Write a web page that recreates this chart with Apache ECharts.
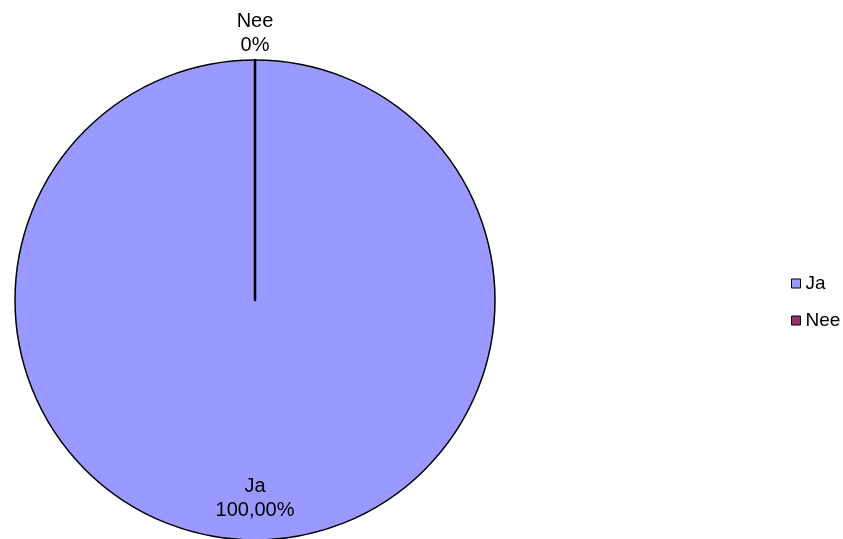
<!DOCTYPE html>
<html><head><meta charset="utf-8">
<script src="https://cdn.jsdelivr.net/npm/echarts@6/dist/echarts.min.js"></script>
<style>html,body{margin:0;padding:0;background:#fff}#c{width:843px;height:539px}</style>
</head><body><div id="c"></div>
<script>
var categories = ['Ja', 'Nee'];
var values = [100, 0];
var pctLabels = ['100,00%', '0%'];
var colors = ['#9999FF', '#993366'];

var chart = echarts.init(document.getElementById('c'), null, {renderer: 'canvas'});
var font = 'Liberation Sans, Arial, sans-serif';
var center = [255, 300];
chart.setOption({
  animation: false,
  legend: {
    data: categories,
    orient: 'vertical',
    left: 786, top: 269,
    icon: 'rect', itemWidth: 9, itemHeight: 9, itemGap: 18,
    textStyle: {fontFamily: font, fontSize: 19, color: '#000'},
    itemStyle: {borderColor: '#000', borderWidth: 1}
  },
  series: [
    {
      type: 'pie', center: center, radius: [0, 240],
      startAngle: 90, clockwise: true, silent: true,
      label: {show: false}, labelLine: {show: false},
      itemStyle: {borderColor: '#000', borderWidth: 1.5},
      data: categories.map(function (n, i) {
        return {name: n, value: values[i], itemStyle: {color: colors[i], borderWidth: i === 1 ? 2.5 : 1.5}};
      })
    },
    {
      type: 'pie', center: center, radius: [150, 240],
      startAngle: 90, clockwise: true, silent: true,
      legendHoverLink: false,
      itemStyle: {color: 'transparent', borderWidth: 0},
      label: {position: 'inside', fontFamily: font, fontSize: 20, lineHeight: 24, color: '#000',
        formatter: function (p) { return p.name + '\n' + pctLabels[p.dataIndex]; }},
      labelLine: {show: false},
      data: categories.map(function (n, i) {
        return {name: n, value: values[i], label: {show: i === 0}, itemStyle: {color: 'transparent'}};
      })
    },
    {
      type: 'pie', center: center, radius: [252, 276],
      startAngle: 90, clockwise: true, silent: true,
      legendHoverLink: false,
      itemStyle: {color: 'transparent', borderWidth: 0},
      label: {position: 'inside', fontFamily: font, fontSize: 20, lineHeight: 24, color: '#000',
        formatter: function (p) { return p.name + '\n' + pctLabels[p.dataIndex]; }},
      labelLine: {show: false},
      data: categories.map(function (n, i) {
        return {name: n, value: values[i], label: {show: i === 1}, itemStyle: {color: 'transparent'}};
      })
    }
  ]
});
</script></body></html>
